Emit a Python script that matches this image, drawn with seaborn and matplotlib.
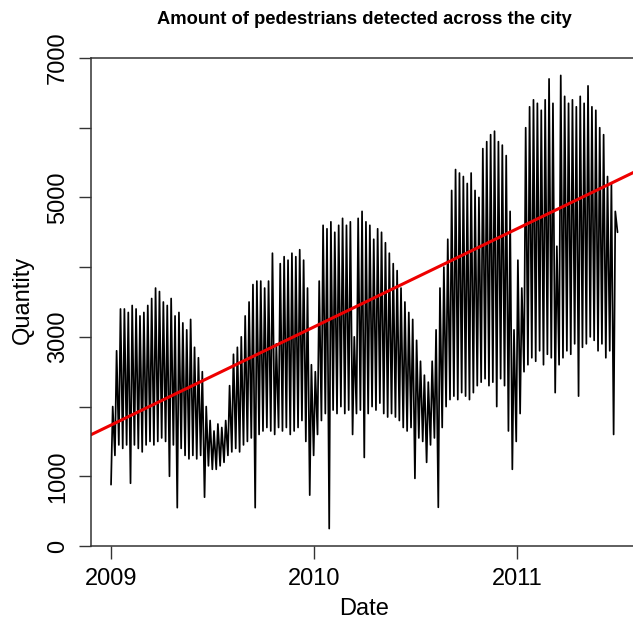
import numpy as np
import pandas as pd
import matplotlib
matplotlib.use("Agg")
import matplotlib.pyplot as plt
import matplotlib.dates as mdates
import seaborn as sns

# weekly peaks (weekdays) and troughs (weekends / holidays)
week_high = [
    2000, 2800, 3400, 3400, 3350, 3450, 3400, 3300, 3350, 3450,
    3550, 3700, 3650, 3500, 3450, 3550, 3300, 3350, 3200, 3100,
    3250, 2850, 2700, 2500, 2000, 1800, 1650, 1750, 1700, 1800,
    2300, 2750, 2850, 3000, 3300, 3500, 3750, 3800, 3800, 3700,
    3800, 4200, 2900, 4050, 4150, 4100, 4200, 4150, 4250, 4100,
    3700, 2600, 2500, 3800, 4600, 4550, 4650, 4500, 4600, 4700,
    4600, 4650, 3000, 4700, 4800, 4650, 4600, 4400, 4550, 4500,
    4350, 4200, 4050, 3950, 3700, 3500, 3350, 3250, 2950, 2650,
    2450, 2350, 2650, 3100, 3700, 4000, 4400, 5100, 5400, 5350,
    5300, 5200, 5350, 5100, 5000, 5700, 5800, 5900, 5950, 5800,
    5750, 5600, 4800, 3100, 4100, 3700, 6000, 6300, 6400, 6350,
    6250, 6400, 6700, 6350, 4300, 6750, 6450, 6350, 6400, 6300,
    6450, 6350, 6600, 6300, 6250, 6000, 5900, 5300, 5200, 4800,
]
week_low = [
    880, 1300, 1450, 1400, 1450, 900, 1450, 1400, 1350, 1450,
    1500, 1450, 1500, 1550, 1500, 1000, 1450, 550, 1400, 1300,
    1250, 1300, 1250, 1300, 700, 1150, 1100, 1100, 1150, 1200,
    1300, 1350, 1400, 1350, 1450, 1500, 1550, 550, 1600, 1650,
    1700, 1650, 1600, 1700, 1650, 1700, 1600, 1650, 1700, 1800,
    1500, 730, 1300, 1600, 1800, 1900, 250, 1950, 1900, 2000,
    1900, 1950, 1600, 1900, 1950, 1270, 1900, 2000, 1950, 2050,
    1900, 1850, 1900, 1850, 1800, 1700, 1650, 1700, 970, 1550,
    1500, 1200, 1450, 1550, 555, 1700, 2000, 2100, 2150, 2100,
    2200, 2150, 2100, 2200, 2300, 2350, 2400, 2300, 2350, 2000,
    2400, 2300, 1650, 1100, 1500, 1900, 2500, 2600, 2700, 2650,
    2800, 2600, 2750, 2700, 2200, 2600, 2700, 2800, 2750, 2900,
    2150, 2850, 2900, 3000, 2950, 2800, 2900, 2700, 2800, 1600,
]
series_start = "2009-01-01"
last_date = "2011-06-30"
last_value = 4500

# linear trend (red line)
trend_date = "2009-01-01"
trend_value = 1735
trend_slope_per_day = 3.86

y_ticks = [0, 1000, 2000, 3000, 4000, 5000, 6000, 7000]
y_labels = ["0", "1000", "", "3000", "", "5000", "", "7000"]
x_years = ["2009", "2010", "2011"]

# build the long table
start = pd.Timestamp(series_start)
dates, vals = [], []
for k in range(len(week_high)):
    dates.append(start + pd.Timedelta(days=7 * k))
    vals.append(week_low[k])
    dates.append(start + pd.Timedelta(days=7 * k + 3))
    vals.append(week_high[k])
dates.append(pd.Timestamp(last_date))
vals.append(last_value)
df = pd.DataFrame({"Date": dates, "Quantity": vals})

sns.set_style("ticks")
plt.rcParams["font.family"] = ["Liberation Sans", "DejaVu Sans"]

fig = plt.figure(figsize=(6.33, 6.2), dpi=100)
ax = fig.add_axes([91 / 633, 74 / 620, 546 / 633, 488 / 620])

sns.lineplot(data=df, x="Date", y="Quantity", color="black", lw=1.25, ax=ax)
ax.axline((mdates.date2num(pd.Timestamp(trend_date)), trend_value),
          slope=trend_slope_per_day, color="#ee0000", lw=2.2)

ax.set_xlim(pd.Timestamp("2008-11-26"), pd.Timestamp("2011-08-04"))
ax.set_ylim(0, 7000)
ax.set_xticks([pd.Timestamp(y + "-01-01") for y in x_years])
ax.set_xticklabels(x_years, fontsize=17, color="black")
ax.set_yticks(y_ticks)
ax.set_yticklabels(y_labels, fontsize=17, rotation=90, va="center", color="black")
ax.tick_params(axis="both", direction="out", length=9, width=1,
               color="#333333", pad=7)
for s in ax.spines.values():
    s.set_color("#333333")
    s.set_linewidth(1.1)
ax.set_xlabel("")
ax.set_ylabel("")

fig.text(364 / 633, 1 - 20 / 620, "Amount of pedestrians detected across the city",
         ha="center", va="center", fontsize=13.2, fontweight="bold", color="black")
fig.text(364 / 633, 1 - 609 / 620, "Date", ha="center", va="center",
         fontsize=17, color="black")
fig.text(23 / 633, 1 - 300 / 620, "Quantity", ha="center", va="center",
         fontsize=17, rotation=90, color="black")

fig.savefig("out.png", dpi=100)
